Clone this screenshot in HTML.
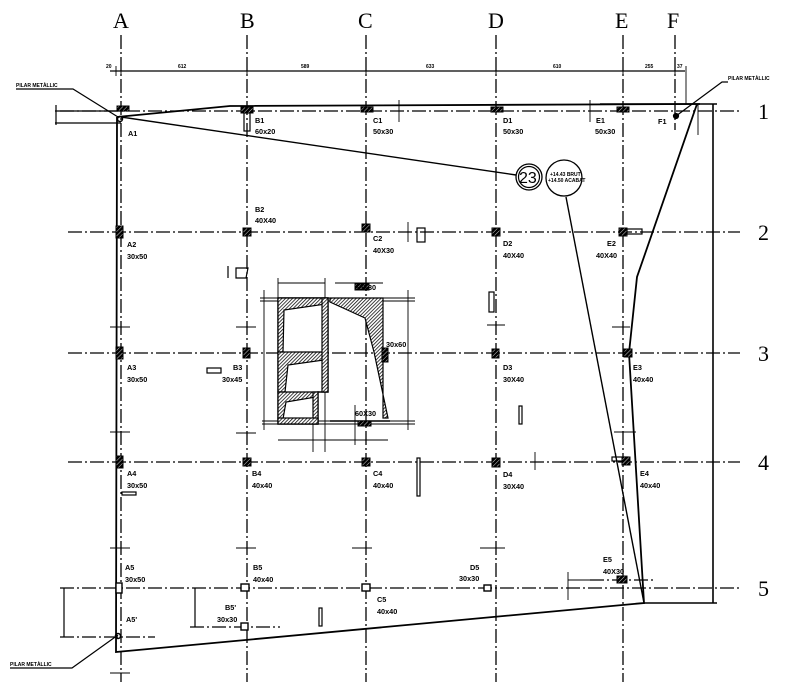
<!DOCTYPE html>
<html><head><meta charset="utf-8"><style>
html,body{margin:0;padding:0;background:#fff}
svg{display:block}
text{font-family:"Liberation Sans",sans-serif;font-weight:bold;fill:#000}
.l{font-size:7.3px}
.s{font-size:5px}
.big{font-family:"Liberation Serif",serif;font-weight:normal;font-size:22px}
</style></head><body>
<svg width="800" height="682" viewBox="0 0 800 682" xmlns="http://www.w3.org/2000/svg">
<defs>
<pattern id="h" width="2.5" height="2.5" patternUnits="userSpaceOnUse" patternTransform="rotate(45)">
<rect width="2.5" height="2.5" fill="#fff"/><line x1="0" y1="0" x2="0" y2="2.5" stroke="#000" stroke-width="1.5"/></pattern>
<pattern id="hc" width="3" height="3" patternUnits="userSpaceOnUse" patternTransform="rotate(45)">
<rect width="3" height="3" fill="#000"/><line x1="0" y1="0" x2="0" y2="3" stroke="#fff" stroke-width="0.8"/></pattern>
</defs>
<g stroke="#000" stroke-width="1.3" stroke-dasharray="14,3,2,3" fill="none">
<line x1="121" y1="35" x2="121" y2="682"/>
<line x1="247" y1="35" x2="247" y2="682"/>
<line x1="366" y1="35" x2="366" y2="682"/>
<line x1="496" y1="35" x2="496" y2="682"/>
<line x1="623" y1="35" x2="623" y2="682"/>
<line x1="675" y1="35" x2="675" y2="130"/>
<line x1="60" y1="111" x2="740" y2="111"/>
<line x1="68" y1="232" x2="740" y2="232"/>
<line x1="68" y1="353" x2="740" y2="353"/>
<line x1="68" y1="462" x2="740" y2="462"/>
<line x1="60" y1="588" x2="740" y2="588"/>
<line x1="190" y1="627" x2="280" y2="627"/>
<line x1="60" y1="637" x2="155" y2="637"/>
<line x1="590" y1="580" x2="656" y2="580"/>
</g>
<g class="big">
<text x="113" y="28" class="big">A</text><text x="240" y="28" class="big">B</text>
<text x="358" y="28" class="big">C</text><text x="488" y="28" class="big">D</text>
<text x="615" y="28" class="big">E</text><text x="667" y="28" class="big">F</text>
<text x="758" y="119" class="big">1</text><text x="758" y="240" class="big">2</text>
<text x="758" y="361" class="big">3</text><text x="758" y="470" class="big">4</text>
<text x="758" y="596" class="big">5</text>
</g>
<g stroke="#000" fill="none" stroke-width="1.2">
<line x1="110" y1="71" x2="685" y2="71"/>
<g stroke-width="0.9">
<line x1="116" y1="66" x2="116" y2="76"/><line x1="121" y1="66" x2="121" y2="76"/>
<line x1="247" y1="66" x2="247" y2="76"/><line x1="366" y1="66" x2="366" y2="76"/>
<line x1="496" y1="66" x2="496" y2="76"/><line x1="623" y1="66" x2="623" y2="76"/>
<line x1="675" y1="66" x2="675" y2="76"/><line x1="686" y1="66" x2="686" y2="104"/>
</g>
<polyline stroke-width="1.8" points="117,117 230,106 700,104"/>
<polyline stroke-width="1.8" points="117,117 116,652 644,603 629,353 637,277 697,104"/>
<line x1="644" y1="603" x2="717" y2="603" stroke-width="1.6"/>
<line x1="713" y1="104" x2="713" y2="603" stroke-width="1.6"/>
<line x1="600" y1="104" x2="717" y2="104" stroke-width="1.4"/>
<line x1="121" y1="117" x2="516" y2="175" stroke-width="1.4"/>
<line x1="566" y1="197" x2="644" y2="603" stroke-width="1.4"/>
<circle cx="529" cy="177" r="13" stroke-width="1.3"/><circle cx="529" cy="177" r="10.5"/>
<circle cx="564" cy="178" r="18" stroke-width="1.3"/>
<polyline points="16,89 73,89 118,117"/>
<polyline points="728,82 722,82 676,116"/>
<polyline points="10,668 72,668 118,635"/>
<circle cx="120" cy="119" r="2.5" stroke-width="1.5"/>
<circle cx="676" cy="116" r="2.5" fill="#000"/>
<circle cx="118" cy="636" r="2.5" stroke-width="1.5"/>
<line x1="55" y1="111" x2="125" y2="111"/><line x1="55" y1="123" x2="121" y2="123"/>
<line x1="56" y1="105" x2="56" y2="125"/>
<line x1="64" y1="588" x2="64" y2="637"/>
<line x1="195" y1="588" x2="195" y2="627"/>
<rect x="244" y="113" width="6" height="18"/>
<rect x="417" y="228" width="8" height="14"/>
<rect x="489" y="292" width="5" height="20"/>
<rect x="207" y="368" width="14" height="5"/>
<rect x="122" y="492" width="14" height="3"/>
<rect x="417" y="458" width="3" height="38"/>
<rect x="519" y="406" width="3" height="18"/>
<rect x="319" y="608" width="3" height="18"/>
<path d="M236 268 h12 l-2 10 h-10 z"/>
<line x1="228" y1="266" x2="228" y2="278"/>
<rect x="627" y="229" width="15" height="5"/>
<rect x="612" y="457" width="16" height="4"/>
<g stroke-width="0.9">
<line x1="110" y1="327" x2="130" y2="327"/><line x1="110" y1="432" x2="130" y2="432"/>
<line x1="110" y1="548" x2="130" y2="548"/><line x1="110" y1="673" x2="130" y2="673"/>
<line x1="236" y1="327" x2="256" y2="327"/><line x1="236" y1="433" x2="256" y2="433"/>
<line x1="236" y1="548" x2="256" y2="548"/>
<line x1="352" y1="548" x2="372" y2="548"/>
<line x1="480" y1="548" x2="505" y2="548"/>
<line x1="612" y1="327" x2="630" y2="327"/><line x1="614" y1="432" x2="636" y2="432"/>
<line x1="487" y1="325" x2="505" y2="325"/>
<line x1="399" y1="100" x2="399" y2="122"/><line x1="590" y1="100" x2="590" y2="122"/>
<line x1="535" y1="452" x2="535" y2="470"/>
<line x1="568" y1="572" x2="568" y2="600"/><line x1="568" y1="580" x2="590" y2="580"/>
<line x1="408" y1="222" x2="408" y2="242"/>
<line x1="698" y1="104" x2="698" y2="135"/>
</g>
<g stroke-width="0.9">
<line x1="260" y1="298" x2="415" y2="298"/><line x1="260" y1="301" x2="415" y2="301"/>
<line x1="262" y1="421" x2="415" y2="421"/><line x1="262" y1="424" x2="415" y2="424"/>
<line x1="264" y1="290" x2="264" y2="430"/><line x1="408" y1="290" x2="408" y2="430"/>
<line x1="278" y1="278" x2="278" y2="298"/><line x1="325" y1="278" x2="325" y2="298"/>
<line x1="278" y1="283" x2="325" y2="283"/><line x1="335" y1="283" x2="383" y2="283"/>
<line x1="278" y1="440" x2="388" y2="440"/><line x1="313" y1="424" x2="313" y2="452"/>
<line x1="325" y1="390" x2="325" y2="452"/><line x1="355" y1="405" x2="355" y2="445"/>
</g>
<path d="M278 298 H328 V392 H318 V424 H278 Z" stroke-width="1.4"/>
<path d="M278 298 H328 L326 304 L284 310 L283 352 H278 Z" fill="url(#h)"/>
<path d="M278 352 H325 L324 360 L288 365 L285 392 H278 Z" fill="url(#h)"/>
<path d="M278 392 H318 L316 397 L286 402 L283 419 H278 Z" fill="url(#h)"/>
<rect x="322" y="298" width="6" height="94" fill="url(#h)"/>
<rect x="313" y="392" width="5" height="32" fill="url(#h)"/>
<rect x="278" y="418" width="40" height="6" fill="url(#h)"/>
<path d="M330 298 H383 V418 H388 L374 352 L365 318 L330 302 Z" fill="url(#h)"/>
<line x1="330" y1="421" x2="390" y2="421" stroke-width="1.4"/>
</g>
<g stroke="#000" stroke-width="1" fill="url(#hc)">
<rect x="116" y="226" width="7" height="12"/><rect x="243" y="228" width="8" height="8"/>
<rect x="362" y="224" width="8" height="8"/><rect x="492" y="228" width="8" height="8"/>
<rect x="619" y="228" width="8" height="8"/>
<rect x="117" y="106" width="12" height="5"/><rect x="241" y="107" width="12" height="6"/>
<rect x="361" y="107" width="12" height="5"/><rect x="491" y="107" width="12" height="5"/>
<rect x="617" y="107" width="12" height="5"/>
<rect x="116" y="347" width="7" height="12"/><rect x="243" y="348" width="7" height="10"/>
<rect x="492" y="349" width="7" height="9"/><rect x="624" y="349" width="8" height="8"/>
<rect x="382" y="348" width="6" height="14"/>
<rect x="355" y="284" width="14" height="6"/><rect x="358" y="421" width="13" height="5"/>
<rect x="116" y="456" width="7" height="12"/><rect x="243" y="458" width="8" height="8"/>
<rect x="362" y="458" width="8" height="8"/><rect x="492" y="458" width="8" height="9"/>
<rect x="622" y="457" width="8" height="8"/><rect x="617" y="576" width="10" height="7"/>
</g>
<g stroke="#000" stroke-width="1.4" fill="#fff">
<rect x="116" y="583" width="6" height="10"/><rect x="241" y="584" width="8" height="7"/>
<rect x="362" y="584" width="8" height="7"/><rect x="484" y="585" width="7" height="6"/>
<rect x="241" y="623" width="7" height="7"/>
</g>
<g class="l">
<text x="16" y="87" class="s" font-size="6">PILAR METÀLLIC</text>
<text x="728" y="80" class="s" font-size="6">PILAR METÀLLIC</text>
<text x="10" y="666" class="s" font-size="6">PILAR METÀLLIC</text>
<text x="128" y="136" class="l">A1</text>
<text x="255" y="123" class="l">B1</text><text x="255" y="134" class="l">60x20</text>
<text x="373" y="123" class="l">C1</text><text x="373" y="134" class="l">50x30</text>
<text x="503" y="123" class="l">D1</text><text x="503" y="134" class="l">50x30</text>
<text x="596" y="123" class="l">E1</text><text x="595" y="134" class="l">50x30</text>
<text x="658" y="124" class="l">F1</text>
<text x="127" y="247" class="l">A2</text><text x="127" y="259" class="l">30x50</text>
<text x="255" y="212" class="l">B2</text><text x="255" y="223" class="l">40X40</text>
<text x="373" y="241" class="l">C2</text><text x="373" y="253" class="l">40X30</text>
<text x="503" y="246" class="l">D2</text><text x="503" y="258" class="l">40X40</text>
<text x="607" y="246" class="l">E2</text><text x="596" y="258" class="l">40X40</text>
<text x="127" y="370" class="l">A3</text><text x="127" y="382" class="l">30x50</text>
<text x="233" y="370" class="l">B3</text><text x="222" y="382" class="l">30x45</text>
<text x="503" y="370" class="l">D3</text><text x="503" y="382" class="l">30X40</text>
<text x="633" y="370" class="l">E3</text><text x="633" y="382" class="l">40x40</text>
<text x="355" y="290" class="l">60X30</text><text x="355" y="416" class="l">60X30</text>
<text x="386" y="347" class="l">30x60</text>
<text x="127" y="476" class="l">A4</text><text x="127" y="488" class="l">30x50</text>
<text x="252" y="476" class="l">B4</text><text x="252" y="488" class="l">40x40</text>
<text x="373" y="476" class="l">C4</text><text x="373" y="488" class="l">40x40</text>
<text x="503" y="477" class="l">D4</text><text x="503" y="489" class="l">30X40</text>
<text x="640" y="476" class="l">E4</text><text x="640" y="488" class="l">40x40</text>
<text x="125" y="570" class="l">A5</text><text x="125" y="582" class="l">30x50</text>
<text x="253" y="570" class="l">B5</text><text x="253" y="582" class="l">40x40</text>
<text x="377" y="602" class="l">C5</text><text x="377" y="614" class="l">40x40</text>
<text x="470" y="570" class="l">D5</text><text x="459" y="581" class="l">30x30</text>
<text x="603" y="562" class="l">E5</text><text x="603" y="574" class="l">40X30</text>
<text x="225" y="610" class="l">B5'</text><text x="217" y="622" class="l">30x30</text>
<text x="126" y="622" class="l">A5'</text>
<text x="519" y="183" style="font-family:'Liberation Sans',sans-serif;font-weight:normal;font-size:16px">23</text>
<text x="550" y="176" class="s" font-size="4.5">+14.43 BRUT</text>
<text x="548" y="182" class="s" font-size="4.5">+14.50 ACABAT</text>
<text x="106" y="68" class="s">20</text><text x="178" y="68" class="s">612</text>
<text x="301" y="68" class="s">589</text><text x="426" y="68" class="s">633</text>
<text x="553" y="68" class="s">610</text><text x="645" y="68" class="s">255</text>
<text x="677" y="68" class="s">37</text>
</g>
</svg>
</body></html>
